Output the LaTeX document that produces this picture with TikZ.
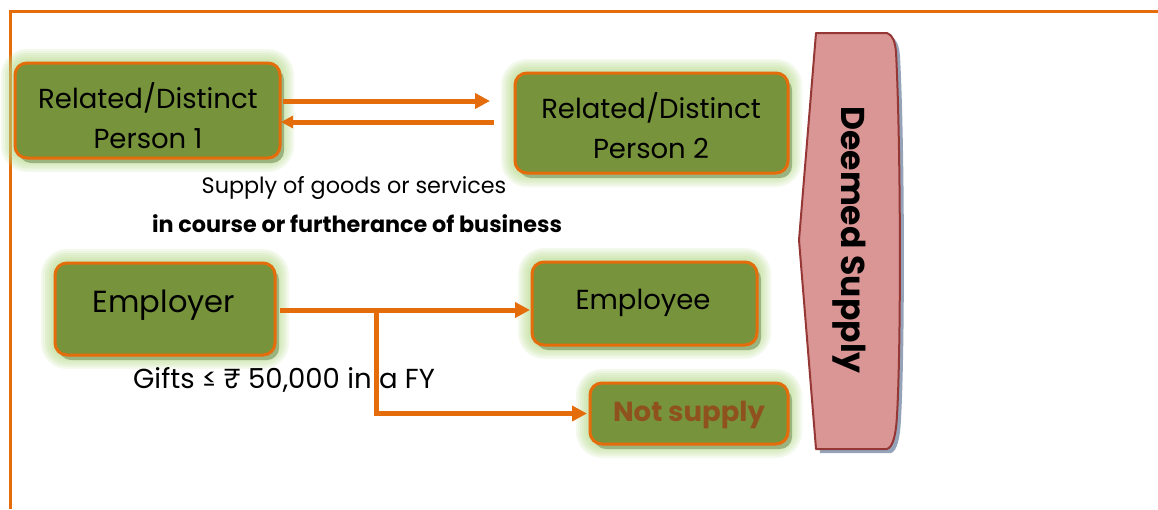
\documentclass[tikz,border=0pt]{standalone}
\usepackage{fontspec}
\setmainfont{Poppins}
\usetikzlibrary{arrows.meta,calc}
\definecolor{boxgreen}{HTML}{77933C}
\definecolor{orangeline}{HTML}{E46C0A}
\definecolor{glowgreen}{HTML}{B5D98A}
\definecolor{shadowgreen}{HTML}{9BB37F}
\definecolor{pinkfill}{HTML}{D99694}
\definecolor{darkred}{HTML}{953735}
\definecolor{shadowblue}{HTML}{95A3B9}
\definecolor{browntext}{RGB}{143,82,30}
\tikzset{
  box/.style={draw=orangeline, line width=3pt, fill=boxgreen, rounded corners=12pt, inner sep=0pt, outer sep=0pt},
  boxtext/.style={font=\fontsize{27.5}{32}\selectfont, anchor=base, inner sep=0pt},
  arr/.style={draw=orangeline, line width=5pt, -{Triangle[length=15pt,width=15pt]}},
  frame/.style={draw=orangeline, line width=3pt},
}
\newcommand\glowbox[5]{%
  \foreach \k in {14,12,...,2}{%
    \pgfmathsetmacro\rr{12+\k}%
    \fill[glowgreen, fill opacity=0.15, rounded corners=\rr pt] (#2-#4/2-\k, #3-#5/2-\k) rectangle (#2+#4/2+\k, #3+#5/2+\k);
  }%
  \fill[shadowgreen, rounded corners=12pt] (#2-#4/2+4,#3-#5/2+5) rectangle (#2+#4/2+4,#3+#5/2+5);
  \node[box, minimum width=#4pt, minimum height=#5pt] (#1) at (#2,#3) {};
}
\begin{document}
\begin{tikzpicture}[x=1pt,y=-1pt]
\useasboundingbox (0,0) rectangle (1158,509);
% frame
\draw[frame] (10,509) -- (10,11) -- (1158,11);

% boxes
\glowbox{p1}{147.5}{110.5}{265}{95}
\glowbox{p2}{651.5}{123}{273}{100}
\glowbox{emp}{165}{309}{220}{92}
\glowbox{ee}{644.5}{303.5}{225}{83}
\glowbox{ns}{689}{413.5}{198}{61}

% box texts
\node[boxtext] (p1a) at (148,108) {Related/Distinct};
\node[boxtext] (p1b) at (148,148) {Person 1};
\node[boxtext] (p2a) at (651,118) {Related/Distinct};
\node[boxtext] (p2b) at (651,158) {Person 2};
\node[boxtext, font=\fontsize{30.5}{34}\selectfont] (empt) at (164,312) {Employer};
\node[boxtext] (eet) at (643,309) {Employee};
\node[boxtext, font=\bfseries\fontsize{27.5}{32}\selectfont, text=browntext] (nst) at (689,421) {Not supply};

% connectors
\draw[arr, shorten <=3pt, shorten >=25pt] ([yshift=9.5pt]p1.east) -- ([yshift=9.5pt]p1.east -| p2.west);
\draw[arr, -{Triangle[length=12pt,width=12pt]}, shorten <=21pt, shorten >=1pt] ([yshift=-11.5pt]p1.east -| p2.west) -- ([yshift=-11.5pt]p1.east);
\coordinate (br) at (376,310);
\draw[arr, shorten <=5pt, shorten >=2pt] ([yshift=-1pt]emp.east) -- ([yshift=-1pt]emp.east -| ee.west);
\draw[arr, -{Triangle[length=15pt,width=15pt]}, shorten >=3pt] (br) |- (ns.west);

% labels
\node[boxtext, font=\fontsize{22.3}{26}\selectfont] (lab1) at (354,193) {Supply of goods or services};
\node[boxtext, font=\bfseries\fontsize{22.3}{26}\selectfont] (lab2) at (357,232) {in course or furtherance of business};
\node[boxtext] (gift) at (284,388) {Gifts ≤ ₹ 50,000 in a FY};

% deemed supply shape
\fill[shadowblue] (820,37) -- (891,37) .. controls (897,39) and (899,46) .. (900,56)
  .. controls (905,150) and (905,350) .. (901,419) .. controls (900,439) and (897,451) .. (891,453)
  -- (820,453) -- (803,244) -- cycle;
\draw[darkred, fill=pinkfill, line width=2pt, line join=round] (816,33) -- (887,33) .. controls (893,35) and (895,42) .. (896,52)
  .. controls (901,150) and (901,350) .. (897,415) .. controls (896,435) and (893,447) .. (887,449)
  -- (816,449) -- (799,240) -- cycle;
\node[rotate=-90, font=\bfseries\fontsize{33}{36}\selectfont, inner sep=0pt] (ds) at (849,240) {Deemed Supply};
\end{tikzpicture}
\end{document}
